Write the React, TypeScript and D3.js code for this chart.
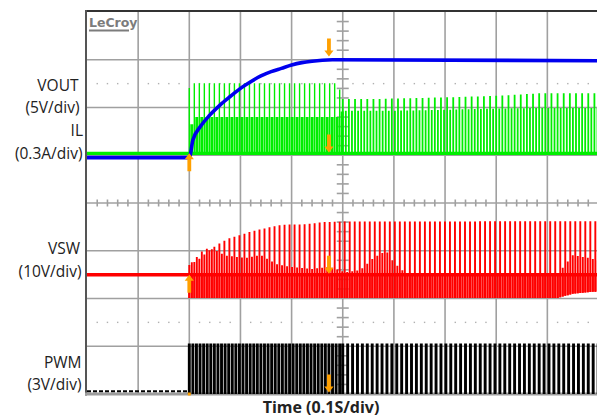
import React from 'react';
import * as d3 from 'd3';

// ---- screen geometry of the scope graticule ----
const W = 597;
const H = 419;

// ---- data (time in seconds, 0.1 s/div; amplitude in graticule divisions from the bottom) ----
const T_START = 0.2;      // soft-start begins
const T_MARK = 0.473;     // second cursor
const T_END = 1.0;

// VOUT (blue)
const voutT = [0, 0.2, 0.207, 0.221, 0.24, 0.26, 0.28, 0.30, 0.32, 0.34, 0.36, 0.38, 0.40, 0.42, 0.44, 0.46, 0.48, 1.0];
const voutV = [4.95, 4.95, 5.32, 5.59, 5.84, 6.05, 6.23, 6.40, 6.54, 6.66, 6.75, 6.82, 6.89, 6.94, 6.97, 6.99, 7.0, 6.98];

// IL (green)
const ilBase = 5.04;
const ilEnvT = [0.2, 0.21, 0.49, 0.5, 0.57, 0.65, 0.73, 0.81, 0.89, 1.0];
const ilPeakV = [6.41, 6.51, 6.51, 6.18, 6.18, 6.20, 6.22, 6.25, 6.30, 6.30];
const ilValleyV = [5.5, 5.8, 5.8, 5.93, 5.93, 5.94, 5.96, 5.98, 5.99, 5.99];

// VSW (red)
const vswBase = 2.5;
const vswTopT = [0.2, 0.221, 0.24, 0.26, 0.28, 0.30, 0.32, 0.34, 0.36, 0.38, 0.40, 0.42, 0.44, 0.46, 0.50, 1.0];
const vswTopV = [2.70, 2.84, 3.02, 3.16, 3.27, 3.33, 3.40, 3.45, 3.50, 3.54, 3.55, 3.55, 3.57, 3.60, 3.61, 3.62];
const vswSecT = [0.2, 0.23, 0.25, 0.27, 0.31, 0.34, 0.37, 0.40, 0.44, 0.475, 0.505, 0.535, 0.56, 0.585, 0.60, 0.625, 0.92, 0.95, 0.98, 1.0];
const vswSecV = [2.70, 3.05, 3.02, 2.90, 2.85, 2.91, 2.72, 2.66, 2.62, 2.66, 2.55, 2.60, 2.85, 3.0, 2.75, 2.51, 2.51, 2.91, 2.85, 2.80];
const vswBotT = [0.2, 0.92, 0.95, 1.0];
const vswBotV = [2.01, 2.01, 2.10, 2.15];

// PWM (black)
const pwmLow = 0.06;
const pwmHigh = 1.06;

// switching periods (s)
const IL_PERIOD = 0.0098;
const IL_PERIOD_LATE = 0.006;
const VSW_PERIOD = 0.0049;
const PWM_PERIOD_EARLY = 0.0070;
const PWM_PERIOD_LATE = 0.0096;

// labels
const labels = [
  { text: 'VOUT', x: 78.5, y: 91 },
  { text: '(5V/div)', x: 79.5, y: 113 },
  { text: 'IL', x: 83, y: 136 },
  { text: '(0.3A/div)', x: 82.5, y: 159 },
  { text: 'VSW', x: 80, y: 254 },
  { text: '(10V/div)', x: 81.5, y: 277 },
  { text: 'PWM', x: 81.5, y: 368 },
  { text: '(3V/div)', x: 81.5, y: 390 },
];
const xTitle = 'Time (0.1S/div)';

const X0 = 87;
const DX = 51.15;
const Y0 = 12;
const DY = 47.75;

export default function App() {
  const x = d3.scaleLinear().domain([0, T_END]).range([X0, X0 + 10 * DX]);
  const y = d3.scaleLinear().domain([0, 8]).range([Y0 + 8 * DY, Y0]);

  const env = (ts: number[], vs: number[]) => d3.scaleLinear().domain(ts).range(vs).clamp(true);
  const ilPeak = env(ilEnvT, ilPeakV);
  const ilValley = env(ilEnvT, ilValleyV);
  const vswTop = env(vswTopT, vswTopV);
  const vswSec = env(vswSecT, vswSecV);
  const vswBot = env(vswBotT, vswBotV);

  // grid
  const vLines = d3.range(1, 10).map((k) => x(k * 0.1));
  const hLines = d3.range(1, 8).map((j) => y(j));
  const xMinor = d3.range(1, 50).filter((k) => k % 5 !== 0).map((k) => x(k * 0.02));
  const yMinor = d3.range(1, 40).filter((j) => j % 5 !== 0).map((j) => y(j * 0.2));
  const dotRows = [6.5, 1.5];

  // IL pulses
  let ilTall = '';
  let ilMed = '';
  let ilLate = '';
  d3.range(T_START, 0.5, IL_PERIOD).forEach((t) => {
    ilTall += `M${x(t).toFixed(2)},${y(ilBase)}V${y(ilPeak(t)).toFixed(2)}`;
    const tm = t + IL_PERIOD / 2;
    ilMed += `M${x(tm).toFixed(2)},${y(ilBase)}V${y(ilValley(tm)).toFixed(2)}`;
  });
  d3.range(0.5, T_END, IL_PERIOD_LATE).forEach((t, i) => {
    const v = i % 2 === 0 ? ilPeak(t) : ilValley(t);
    ilLate += `M${x(t).toFixed(2)},${y(ilBase)}V${y(v).toFixed(2)}`;
  });

  // VSW pulses
  let vswUp = '';
  let vswDown = '';
  d3.range(T_START, T_END, VSW_PERIOD).forEach((t, i) => {
    const top = i % 2 === 0 ? vswTop(t) : vswSec(t);
    vswUp += `M${x(t).toFixed(2)},${y(vswBot(t)).toFixed(2)}V${y(top).toFixed(2)}`;
    vswDown += `M${x(t).toFixed(2)},${y(vswBase)}V${y(vswBot(t)).toFixed(2)}`;
  });

  // PWM pulses
  let pwm = '';
  const pwmTimes = d3.range(T_START, 0.5, PWM_PERIOD_EARLY).concat(d3.range(0.5, T_END, PWM_PERIOD_LATE));
  pwmTimes.forEach((t) => {
    pwm += `M${x(t).toFixed(2)},${y(pwmLow - 0.06)}V${y(pwmHigh).toFixed(2)}`;
  });

  const voutLine = d3
    .line<number>()
    .x((_, i) => x(voutT[i]))
    .y((d) => y(d))
    .curve(d3.curveMonotoneX)(voutV) as string;

  const arrow = (t: number, v: number, dir: 'up' | 'down', key: string) => {
    const cx = x(t);
    const tip = y(v);
    const s = dir === 'up' ? 1 : -1;
    const head = 6;
    const len = 18;
    const hw = 4.6;
    const sw = 1.9;
    const p = `M${cx},${tip}L${cx + hw},${tip + s * head}L${cx + sw},${tip + s * head}L${cx + sw},${tip + s * len}L${cx - sw},${tip + s * len}L${cx - sw},${tip + s * head}L${cx - hw},${tip + s * head}Z`;
    return <path key={key} d={p} fill="#ffa000" />;
  };

  const gridColor = '#a0a0a0';

  return (
    <svg width={W} height={H} style={{ position: 'absolute', left: 0, top: 0, background: '#fff' }}>
      <defs>
        <clipPath id="plot">
          <rect x={X0} y={Y0} width={W - X0} height={8 * DY} />
        </clipPath>
      </defs>
      {/* grid */}
      <g stroke={gridColor} strokeWidth={1.6}>
        {vLines.map((vx, i) => (
          <line key={'v' + i} x1={vx} x2={vx} y1={Y0} y2={Y0 + 8 * DY} />
        ))}
        {hLines.map((hy, i) => (
          <line key={'h' + i} x1={X0} x2={W} y1={hy} y2={hy} />
        ))}
        {xMinor.map((mx, i) => (
          <line key={'xm' + i} x1={mx} x2={mx} y1={y(4) - 3.5} y2={y(4) + 3.5} />
        ))}
        {yMinor.map((my, i) => (
          <line key={'ym' + i} x1={x(0.5) - 6} x2={x(0.5) + 6} y1={my} y2={my} />
        ))}
      </g>
      <g fill="#b0b0b0">
        {dotRows.map((r) =>
          xMinor.map((mx, i) => <rect key={'d' + r + '-' + i} x={mx - 0.7} y={y(r) - 0.7} width={1.4} height={1.4} />)
        )}
      </g>
      {/* frame */}
      <line x1={X0 - 1} x2={W} y1={Y0 - 1} y2={Y0 - 1} stroke="#333" strokeWidth={2} />
      <line x1={X0 - 1} x2={X0 - 1} y1={Y0 - 2} y2={Y0 + 8 * DY + 1.5} stroke="#555" strokeWidth={2} />
      <line x1={X0 - 2} x2={W} y1={Y0 + 8 * DY} y2={Y0 + 8 * DY} stroke="#9c9c9c" strokeWidth={3} />

      <text x={89} y={27} fontFamily="DejaVu Sans" fontWeight="bold" fontSize={12.5} fill="#7c7c7c">
        LeCroy
      </text>
      <line x1={89} x2={129} y1={30.5} y2={30.5} stroke="#7c7c7c" strokeWidth={2} />

      <g clipPath="url(#plot)">
        {/* PWM */}
        <line x1={X0} x2={x(T_START)} y1={y(pwmLow)} y2={y(pwmLow)} stroke="#000" strokeWidth={2} strokeDasharray="4,2" />
        <path d={pwm} stroke="#000" strokeWidth={2.9} fill="none" />

        {/* VSW */}
        <path d={vswDown} stroke="#ff0000" strokeWidth={2} fill="none" />
        <path d={vswUp} stroke="#ff0000" strokeWidth={1.9} fill="none" />
        <line x1={X0} x2={W} y1={y(vswBase)} y2={y(vswBase)} stroke="#ff0000" strokeWidth={3.5} />

        {/* IL */}
        <path d={ilMed} stroke="#00ee00" strokeWidth={3} fill="none" />
        <path d={ilTall} stroke="#00ee00" strokeWidth={1.4} fill="none" />
        <path d={ilLate} stroke="#00ee00" strokeWidth={1.8} fill="none" />
        <line x1={X0} x2={W} y1={y(ilBase)} y2={y(ilBase)} stroke="#00ee00" strokeWidth={3.2} />

        {/* VOUT */}
        <path d={voutLine} stroke="#0000ee" strokeWidth={3.6} fill="none" />

        {/* cursors */}
        {arrow(T_START, ilBase, 'up', 'a1')}
        {arrow(T_START, vswBase, 'up', 'a2')}
        {arrow(T_MARK, 7.07, 'down', 'a3')}
        {arrow(T_MARK, ilBase + 0.02, 'down', 'a4')}
        {arrow(T_MARK, vswBase + 0.02, 'down', 'a5')}
        {arrow(T_MARK, 0.03, 'down', 'a6')}
      </g>
      <rect x={x(T_START) - 1.5} y={Y0 + 8 * DY - 1.5} width={3} height={3} fill="#ffa000" />

      <g fontFamily="Open Sans" fontSize={15.5} fill="#222" textAnchor="end">
        {labels.map((l) => (
          <text key={l.text} x={l.x} y={l.y}>
            {l.text}
          </text>
        ))}
      </g>
      <text x={321} y={413} fontFamily="Open Sans" fontWeight="bold" fontSize={16} fill="#222" textAnchor="middle">
        {xTitle}
      </text>
    </svg>
  );
}
